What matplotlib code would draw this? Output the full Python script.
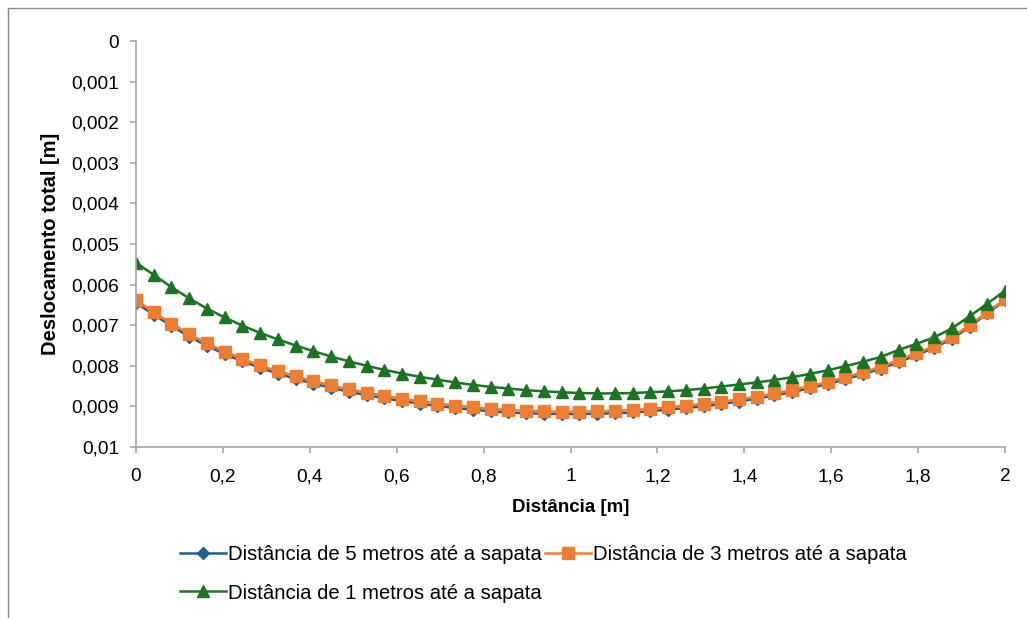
import matplotlib
matplotlib.use('Agg')
import matplotlib.pyplot as plt
import numpy as np
from matplotlib.lines import Line2D
from matplotlib.ticker import FuncFormatter, MultipleLocator

plt.rcParams['font.family'] = ['Liberation Sans', 'DejaVu Sans']

# distância ao longo da sapata [m], 50 pontos de 0 a 2
distancia = np.linspace(0, 2, 50)

# deslocamento total [x 0,001 m]
desl_5m = [6.45, 6.74, 7.02, 7.28, 7.51, 7.71, 7.89, 8.05, 8.19, 8.32,
           8.44, 8.54, 8.64, 8.72, 8.80, 8.87, 8.93, 8.99, 9.04, 9.08,
           9.12, 9.15, 9.17, 9.18, 9.19, 9.19, 9.18, 9.17, 9.15, 9.12,
           9.08, 9.04, 9.00, 8.94, 8.88, 8.81, 8.73, 8.65, 8.55, 8.45,
           8.33, 8.21, 8.07, 7.91, 7.74, 7.56, 7.34, 7.04, 6.71, 6.39]
desl_3m = [6.38, 6.68, 6.96, 7.22, 7.45, 7.65, 7.83, 7.99, 8.13, 8.26,
           8.38, 8.48, 8.58, 8.66, 8.74, 8.81, 8.87, 8.93, 8.98, 9.02,
           9.06, 9.09, 9.11, 9.12, 9.13, 9.13, 9.12, 9.11, 9.09, 9.06,
           9.02, 8.98, 8.94, 8.88, 8.83, 8.76, 8.68, 8.60, 8.50, 8.40,
           8.28, 8.16, 8.02, 7.86, 7.69, 7.52, 7.30, 7.00, 6.68, 6.36]
desl_1m = [5.46, 5.76, 6.06, 6.34, 6.59, 6.81, 7.01, 7.19, 7.35, 7.50,
           7.64, 7.77, 7.89, 8.00, 8.10, 8.19, 8.27, 8.34, 8.41, 8.47,
           8.52, 8.56, 8.60, 8.63, 8.65, 8.67, 8.68, 8.68, 8.67, 8.65,
           8.63, 8.60, 8.56, 8.51, 8.46, 8.41, 8.35, 8.28, 8.20, 8.11,
           8.01, 7.90, 7.78, 7.61, 7.46, 7.30, 7.08, 6.78, 6.47, 6.15]

series = [
    ("Distância de 5 metros até a sapata", desl_5m, '#215f8f', 'D', 6),
    ("Distância de 3 metros até a sapata", desl_3m, '#ed7d31', 's', 8),
    ("Distância de 1 metros até a sapata", desl_1m, '#1b7324', '^', 8.5),
]

fig = plt.figure(figsize=(10.27, 6.18), dpi=100)
ax = fig.add_axes([136 / 1027, 1 - 447 / 618, 869 / 1027, 406 / 618])

handles = []
for nome, vals, cor, mk, ms in series:
    h, = ax.plot(distancia, np.array(vals) * 1e-3, color=cor, marker=mk,
                 markersize=ms, linewidth=1.8, label=nome)
    handles.append(h)

ax.set_xlim(0, 2)
ax.set_ylim(0.01, 0)
ax.xaxis.set_major_locator(MultipleLocator(0.2))
ax.yaxis.set_major_locator(MultipleLocator(0.001))
virgula = FuncFormatter(lambda v, p: ('%g' % round(v, 6)).replace('.', ','))
ax.xaxis.set_major_formatter(virgula)
ax.yaxis.set_major_formatter(virgula)

for s in ['top', 'right']:
    ax.spines[s].set_visible(False)
for s in ['left', 'bottom']:
    ax.spines[s].set_color('#a6a6a6')
    ax.spines[s].set_linewidth(1.2)
ax.tick_params(axis='both', colors='#a6a6a6', labelcolor='black',
               labelsize=13.8, length=4.3, width=1.2)
ax.tick_params(axis='y', pad=8)
ax.tick_params(axis='x', pad=11)

ax.set_xlabel("Distância [m]", fontsize=13.5, fontweight='bold', labelpad=10)
ax.set_ylabel("Deslocamento total [m]", fontsize=14.5, fontweight='bold', labelpad=8)

# ordem para ficar 5 e 3 na primeira linha, 1 na segunda
leg = fig.legend([handles[0], handles[2], handles[1]],
                 [series[0][0], series[2][0], series[1][0]],
                 ncol=2, loc='upper left', bbox_to_anchor=(162 / 1027, 1 - 527 / 618),
                 frameon=False, fontsize=14.6, handlelength=2.27,
                 columnspacing=0.15, handletextpad=0.1, labelspacing=0.95)

# borda do gráfico
fig.add_artist(Line2D([8 / 1027, 8 / 1027], [0, 1 - 8 / 618], color='#8c8c8c', lw=1))
fig.add_artist(Line2D([8 / 1027, 1], [1 - 8 / 618, 1 - 8 / 618], color='#8c8c8c', lw=1))

plt.savefig('out.png', dpi=100)
